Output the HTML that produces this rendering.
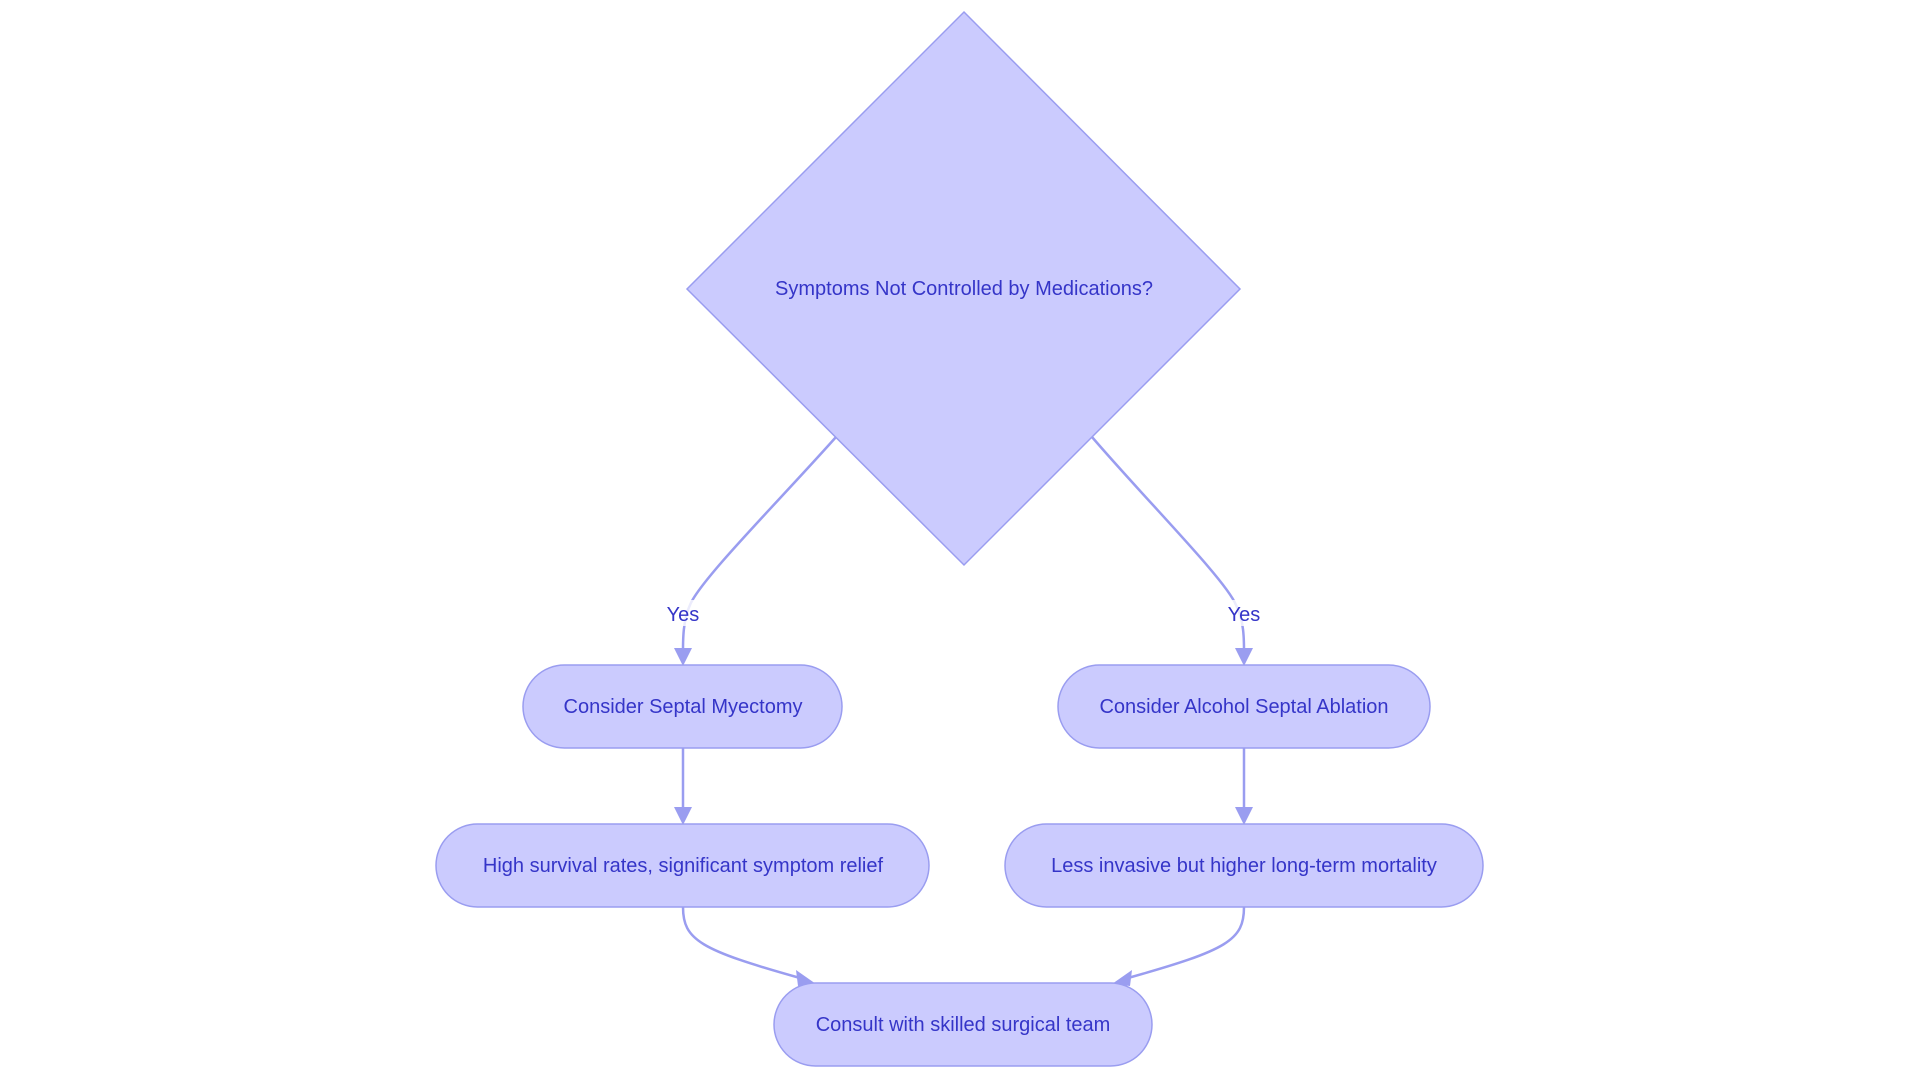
<!DOCTYPE html>
<html><head><meta charset="utf-8"><style>
html,body{margin:0;padding:0;background:#fff;}
svg{display:block;}
text{font-family:"Liberation Sans",sans-serif;font-size:20px;fill:#3535c8;}
</style></head><body>
<svg width="1920" height="1083" viewBox="0 0 1920 1083" xmlns="http://www.w3.org/2000/svg">
<defs>
<marker id="a" viewBox="0 0 10 10" refX="9" refY="5" markerWidth="8" markerHeight="8" orient="auto-start-reverse" markerUnits="userSpaceOnUse">
<path d="M0,0 L10,5 L0,10 z" fill="#9a9df0" transform="scale(1.8) translate(-4.5,-2.2)"/>
</marker>
</defs>
<g fill="none" stroke="#9a9df0" stroke-width="2.5">
<path d="M836,437 C780,500 700,580 690,605 C683,620 683,640 683,650"/>
<path d="M1092,437 C1146,500 1226,580 1236,605 C1244,620 1244,640 1244,650"/>
<path d="M683,748 L683,810"/>
<path d="M1244,748 L1244,810"/>
<path d="M683,907 C683,940 700,950 800,978"/>
<path d="M1244,907 C1244,940 1228,950 1128,978"/>
</g>
<g fill="#9a9df0">
<polygon points="674,648 692,648 683,666"/>
<polygon points="1235,648 1253,648 1244,666"/>
<polygon points="674,807 692,807 683,825"/>
<polygon points="1235,807 1253,807 1244,825"/>
<polygon points="796,970 816,984 798,986"/>
<polygon points="1132,970 1112,984 1130,986"/>
</g>
<polygon points="964,12 1240,289 964,565 687,289" fill="#cbcbfe" stroke="#9a9df0" stroke-width="1.5"/>
<text x="964" y="295" text-anchor="middle">Symptoms Not Controlled by Medications?</text>
<rect x="664" y="600" width="38" height="26" fill="#fff" opacity="0.8"/>
<text x="683" y="621" text-anchor="middle">Yes</text>
<rect x="1225" y="600" width="38" height="26" fill="#fff" opacity="0.8"/>
<text x="1244" y="621" text-anchor="middle">Yes</text>
<g fill="#cbcbfe" stroke="#9a9df0" stroke-width="1.5">
<rect x="523" y="665" width="319" height="83" rx="41.5"/>
<rect x="1058" y="665" width="372" height="83" rx="41.5"/>
<rect x="436" y="824" width="493" height="83" rx="41.5"/>
<rect x="1005" y="824" width="478" height="83" rx="41.5"/>
<rect x="774" y="983" width="378" height="83" rx="41.5"/>
</g>
<text x="683" y="713" text-anchor="middle">Consider Septal Myectomy</text>
<text x="1244" y="713" text-anchor="middle">Consider Alcohol Septal Ablation</text>
<text x="683" y="872" text-anchor="middle">High survival rates, significant symptom relief</text>
<text x="1244" y="872" text-anchor="middle">Less invasive but higher long-term mortality</text>
<text x="963" y="1031" text-anchor="middle">Consult with skilled surgical team</text>
</svg>
</body></html>
